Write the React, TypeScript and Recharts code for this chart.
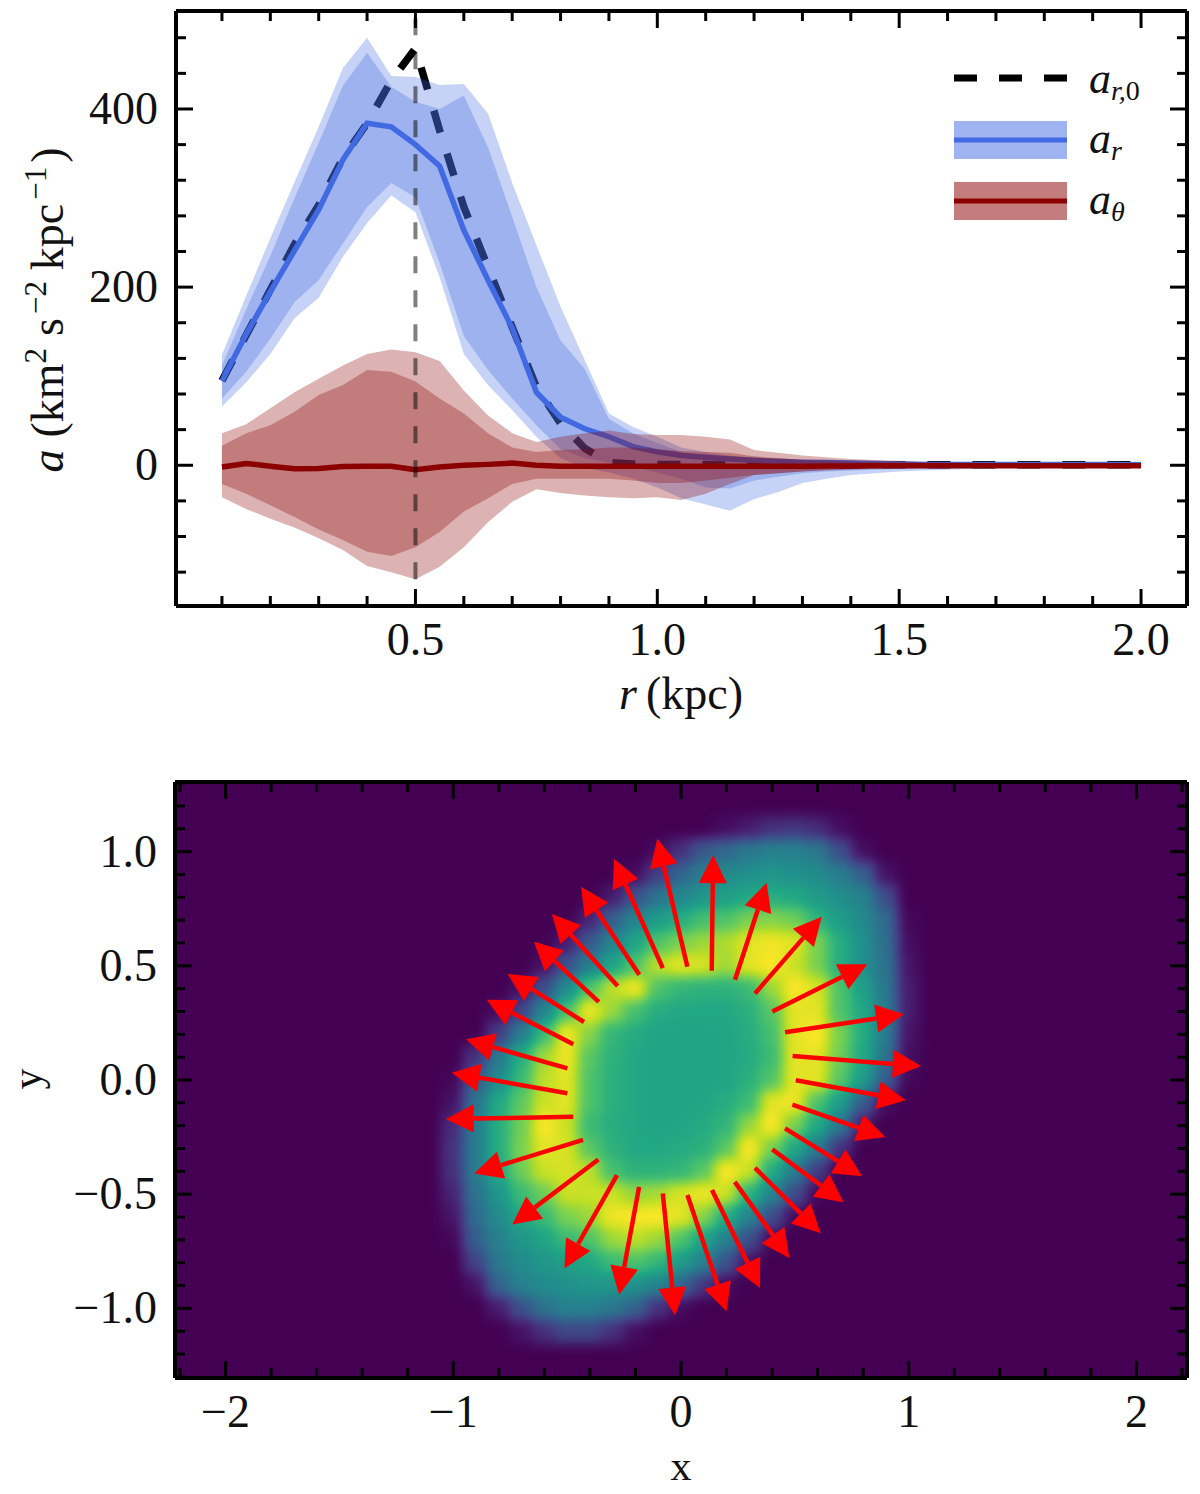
import { Area, CartesianGrid, ComposedChart, Legend, Line, ReferenceLine, Scatter, ScatterChart, XAxis, YAxis } from "recharts";

const FONT = "'Liberation Serif', serif";
const BLUE = "#4169e1";
const RED = "#8b0000";
const INK = "#000";

const radii = [0.1, 0.15, 0.2, 0.25, 0.3, 0.35, 0.4, 0.45, 0.5, 0.55, 0.6, 0.65, 0.7, 0.75, 0.8, 0.85, 0.9, 0.95, 1.0, 1.05, 1.1, 1.15, 1.2, 1.25, 1.3, 1.35, 1.4, 1.45, 1.5, 1.55, 1.6, 1.65, 1.7, 1.75, 1.8, 1.85, 1.9, 1.95, 2.0];
const arZero = [95, 146, 197, 248, 292, 345, 384, 432, 468, 376, 290, 222, 155, 88, 47, 19, 3, 1.5, 1, 1, 0.8, 0.6, 0.5, 0.5, 0.5, 0.5, 0.5, 0.5, 0.5, 0.5, 0.5, 0.5, 0.5, 0.5, 0.5, 0.5, 0.5, 0.5, 0.5];
const arMean = [95, 147, 195, 241, 287, 343, 384, 380, 360, 336, 264, 208, 154, 82, 54, 41, 32, 21, 15, 11, 9, 7, 5.5, 4.5, 3.5, 3, 2.5, 2, 1.5, 1, 1, 1, 1, 1, 1, 1, 1, 1, 0.5];
const arInnerHigh = [112, 175, 235, 300, 362, 426, 463, 425, 408, 400, 415, 357, 279, 200, 140, 108, 52, 36, 25, 15, 11, 8, 6, 5, 4, 3.5, 3, 2.5, 2, 2, 1.5, 1.5, 1.5, 1, 1, 1, 1, 1, 1];
const arInnerLow = [75, 105, 142, 183, 208, 249, 290, 317, 301, 227, 145, 107, 75, 45, 18, 8, 3, -2, -8, -15, -25, -26, -17, -13, -9, -7, -6, -5, -4, -3.5, -3, -2.5, -2, -2, -1.5, -1.5, -1, -1, -1];
const arOuterHigh = [124, 190, 255, 318, 380, 446, 480, 437, 436, 427, 428, 395, 317, 247, 178, 118, 58, 43, 32, 20, 15, 11, 8, 6, 5, 4, 3, 3, 2, 2, 2, 1.5, 1.5, 1.5, 1, 1, 1, 1, 1];
const arOuterLow = [66, 93, 125, 165, 188, 234, 272, 303, 284, 211, 125, 90, 62, 32, 8, -3, -8, -15, -25, -37, -44, -51, -38, -30, -20, -15, -11, -9, -7, -6, -5, -4, -3, -3, -2, -2, -1.5, -1, -1];
const atMean = [-2, 2, -1, -4, -3.5, -1.5, -1, -1, -5, -2, 0, 1, 2.5, 0, -1, -1, -1, -1, -1, -1, -1, -1, -1, -1, -1, -0.8, -0.8, -0.6, -0.6, -0.5, -0.5, -0.5, -0.5, -0.5, -0.5, -0.5, -0.5, -0.5, -0.5];
const atInnerHigh = [22, 36, 45, 60, 79, 90, 107, 105, 94, 75, 58, 36, 20, 15, 17, 18, 20, 20, 18, 16, 15, 14, 10, 8, 6, 5, 4, 3.5, 3, 2.5, 2, 2, 1.5, 1.5, 1, 1, 1, 0.8, 0.8];
const atInnerLow = [-21, -32, -45, -58, -72, -84, -97, -102, -92, -75, -52, -37, -21, -15, -15, -15, -15, -17, -20, -20, -17, -14, -11, -9, -7, -5, -4, -3.5, -3, -2.5, -2, -2, -1.5, -1.5, -1, -1, -1, -0.8, -0.8];
const atOuterHigh = [36, 46, 64, 82, 97, 112, 125, 130, 127, 117, 84, 56, 36, 26, 32, 36, 39, 35, 34, 34, 32, 29, 17, 14, 11, 9, 7, 6, 5, 4, 3.5, 3, 2.5, 2, 2, 1.5, 1.5, 1, 1];
const atOuterLow = [-36, -49, -60, -70, -82, -95, -113, -120, -128, -114, -92, -64, -41, -27, -31, -34, -36, -37, -36, -39, -32, -21, -11, -9, -7, -6, -5, -4, -3.5, -3, -2.5, -2, -2, -1.5, -1.5, -1, -1, -1, -1];

const profile = radii.map((r, i) => ({
  r,
  arZero: arZero[i],
  arMean: arMean[i],
  arInner: [arInnerLow[i], arInnerHigh[i]],
  arOuter: [arOuterLow[i], arOuterHigh[i]],
  atMean: atMean[i],
  atInner: [atInnerLow[i], atInnerHigh[i]],
  atOuter: [atOuterLow[i], atOuterHigh[i]],
}));

const rTicks = [0.1, 0.2, 0.3, 0.4, 0.5, 0.6, 0.7, 0.8, 0.9, 1.0, 1.1, 1.2, 1.3, 1.4, 1.5, 1.6, 1.7, 1.8, 1.9, 2.0];
const rMajor = [0.5, 1.0, 1.5, 2.0];
const aTicks = [-120, -80, -40, 0, 40, 80, 120, 160, 200, 240, 280, 320, 360, 400, 440, 480];
const aMajor = [0, 200, 400];
const xTicks = [-2.2, -2, -1.8, -1.6, -1.4, -1.2, -1, -0.8, -0.6, -0.4, -0.2, 0, 0.2, 0.4, 0.6, 0.8, 1, 1.2, 1.4, 1.6, 1.8, 2, 2.2];
const xMajor = [-2, -1, 0, 1, 2];
const yTicks = [-1.3, -1.2, -1.1, -1, -0.9, -0.8, -0.7, -0.6, -0.5, -0.4, -0.3, -0.2, -0.1, 0, 0.1, 0.2, 0.3, 0.4, 0.5, 0.6, 0.7, 0.8, 0.9, 1, 1.1, 1.2, 1.3];
const yMajor = [-1, -0.5, 0, 0.5, 1];

// density, percent of the colour range
const gridX = [-1.1, -1, -0.9, -0.8, -0.7, -0.6, -0.5, -0.4, -0.3, -0.2, -0.1, 0, 0.1, 0.2, 0.3, 0.4, 0.5, 0.6, 0.7, 0.8, 0.9, 1, 1.1];
const gridY = [1.1, 1, 0.9, 0.8, 0.7, 0.6, 0.5, 0.4, 0.3, 0.2, 0.1, 0, -0.1, -0.2, -0.3, -0.4, -0.5, -0.6, -0.7, -0.8, -0.9, -1, -1.1];
const density = [
  [0, 0, 0, 0, 0, 0, 0, 0, 0, 0, 0, 0, 0, 4, 8, 14, 16, 12, 4, 0, 0, 0, 0],
  [0, 0, 0, 0, 0, 0, 0, 0, 0, 0, 3, 14, 28, 34, 40, 44, 44, 40, 24, 4, 0, 0, 0],
  [0, 0, 0, 0, 0, 0, 0, 0, 0, 3, 18, 32, 42, 47, 50, 52, 50, 48, 42, 30, 5, 0, 0],
  [0, 0, 0, 0, 0, 0, 0, 0, 8, 25, 38, 46, 52, 56, 60, 62, 60, 54, 49, 44, 24, 0, 0],
  [0, 0, 0, 0, 0, 0, 0, 10, 30, 45, 55, 62, 70, 72, 80, 82, 78, 65, 55, 47, 35, 2, 0],
  [0, 0, 0, 0, 0, 0, 8, 28, 45, 58, 72, 80, 85, 88, 96, 98, 96, 80, 62, 50, 36, 4, 0],
  [0, 0, 0, 0, 0, 5, 25, 42, 58, 72, 90, 96, 94, 86, 96, 100, 92, 80, 62, 50, 38, 6, 0],
  [0, 0, 0, 0, 5, 24, 48, 72, 90, 98, 72, 66, 64, 64, 68, 85, 100, 94, 72, 56, 40, 8, 0],
  [0, 0, 0, 3, 20, 45, 70, 98, 85, 70, 62, 60, 60, 60, 63, 74, 96, 96, 72, 60, 42, 8, 0],
  [0, 0, 0, 18, 42, 68, 98, 82, 66, 61, 58, 58, 58, 59, 62, 70, 96, 100, 80, 62, 42, 6, 0],
  [0, 0, 15, 40, 62, 86, 98, 74, 64, 60, 58, 58, 58, 59, 61, 68, 96, 96, 78, 60, 38, 4, 0],
  [0, 2, 28, 48, 68, 90, 96, 72, 63, 60, 58, 58, 58, 59, 63, 73, 96, 96, 74, 55, 30, 2, 0],
  [0, 5, 38, 60, 75, 92, 96, 72, 63, 60, 58, 58, 59, 62, 68, 96, 98, 72, 55, 30, 4, 0, 0],
  [0, 12, 42, 62, 78, 100, 92, 68, 62, 60, 58, 59, 61, 65, 84, 100, 80, 60, 40, 8, 0, 0, 0],
  [0, 15, 42, 62, 80, 96, 94, 74, 64, 60, 60, 61, 63, 74, 100, 80, 60, 42, 15, 0, 0, 0, 0],
  [0, 14, 42, 60, 78, 92, 94, 90, 70, 64, 64, 66, 74, 100, 92, 62, 42, 18, 0, 0, 0, 0, 0],
  [0, 10, 38, 52, 68, 78, 92, 92, 92, 84, 87, 94, 98, 92, 65, 45, 24, 2, 0, 0, 0, 0, 0],
  [0, 6, 35, 48, 60, 68, 80, 85, 98, 100, 100, 96, 82, 62, 45, 24, 3, 0, 0, 0, 0, 0, 0],
  [0, 2, 30, 44, 52, 58, 68, 72, 85, 90, 85, 72, 58, 44, 24, 3, 0, 0, 0, 0, 0, 0, 0],
  [0, 0, 20, 40, 48, 52, 56, 60, 68, 72, 66, 55, 44, 26, 5, 0, 0, 0, 0, 0, 0, 0, 0],
  [0, 0, 5, 32, 44, 48, 50, 52, 52, 50, 45, 33, 16, 3, 0, 0, 0, 0, 0, 0, 0, 0, 0],
  [0, 0, 0, 8, 25, 38, 44, 44, 40, 32, 14, 3, 0, 0, 0, 0, 0, 0, 0, 0, 0, 0, 0],
  [0, 0, 0, 0, 5, 14, 22, 22, 14, 4, 0, 0, 0, 0, 0, 0, 0, 0, 0, 0, 0, 0, 0],
];
const densityCells = gridY.flatMap((y, row) => gridX.map((x, col) => ({ x, y, v: density[row][col] })));

// arrow tail and tip, clockwise from the left
const arrowTailX = [-0.499, -0.499, -0.473, -0.426, -0.361, -0.278, -0.183, -0.08, 0.028, 0.135, 0.237, 0.325, 0.401, 0.457, 0.49, 0.504, 0.489, 0.457, 0.401, 0.325, 0.236, 0.136, 0.028, -0.08, -0.184, -0.281, -0.363, -0.43, -0.473];
const arrowTailY = [-0.058, 0.051, 0.157, 0.254, 0.342, 0.412, 0.461, 0.49, 0.496, 0.478, 0.439, 0.379, 0.3, 0.209, 0.105, -0.001, -0.108, -0.212, -0.304, -0.385, -0.446, -0.482, -0.504, -0.497, -0.468, -0.417, -0.348, -0.262, -0.161];
const arrowTipX = [-1.007, -0.944, -0.853, -0.761, -0.646, -0.567, -0.439, -0.294, -0.104, 0.141, 0.376, 0.618, 0.818, 0.979, 1.054, 0.987, 0.897, 0.795, 0.714, 0.613, 0.476, 0.347, 0.2, -0.026, -0.272, -0.512, -0.741, -0.908, -1.033];
const arrowTipY = [0.032, 0.178, 0.351, 0.464, 0.605, 0.727, 0.846, 0.968, 1.056, 0.985, 0.863, 0.715, 0.507, 0.288, 0.061, -0.089, -0.25, -0.421, -0.535, -0.671, -0.779, -0.911, -1.013, -1.031, -0.94, -0.825, -0.633, -0.409, -0.171];

const viridisR = [68, 72, 65, 53, 42, 33, 34, 68, 122, 189, 253];
const viridisG = [1, 36, 68, 95, 120, 145, 168, 191, 209, 223, 231];
const viridisB = [84, 117, 135, 141, 142, 140, 132, 112, 81, 38, 37];
const toTable = (list: number[]) => list.map((c) => (c / 255).toFixed(3)).join(" ");

const fmtOne = (v: number) => (v < 0 ? "\u2212" : "") + Math.abs(v).toFixed(1);
const fmtInt = (v: number) => (v < 0 ? "\u2212" : "") + Math.abs(v);

function makeTick(side: string, majors: number[], format?: (v: number) => string) {
  return function AxisTick({ x, y, payload }: any) {
    const major = majors.includes(payload.value);
    const len = major ? 17 : 10;
    const dx = side === "left" ? len : side === "right" ? -len : 0;
    const dy = side === "top" ? len : side === "bottom" ? -len : 0;
    return (
      <g>
        <line x1={x} y1={y} x2={x + dx} y2={y + dy} stroke={INK} strokeWidth={3} />
        {major && format && side === "bottom" && (
          <text x={x} y={y + 49} textAnchor="middle" fontFamily={FONT} fontSize={46} fill="#111">{format(payload.value)}</text>
        )}
        {major && format && side === "left" && (
          <text x={x - 18} y={y + 15} textAnchor="end" fontFamily={FONT} fontSize={46} fill="#111">{format(payload.value)}</text>
        )}
      </g>
    );
  };
}

function Arrow({ x1, y1, x2, y2 }: any) {
  const angle = Math.atan2(y2 - y1, x2 - x1);
  const ux = Math.cos(angle);
  const uy = Math.sin(angle);
  const headLen = 28;
  const halfWidth = 14;
  const bx = x2 - ux * headLen;
  const by = y2 - uy * headLen;
  return (
    <g>
      <line x1={x1} y1={y1} x2={bx} y2={by} stroke="#ff0000" strokeWidth={4.5} />
      <polygon
        fill="#ff0000"
        points={`${x2},${y2} ${bx - uy * halfWidth},${by + ux * halfWidth} ${bx + uy * halfWidth},${by - ux * halfWidth}`}
      />
    </g>
  );
}

// cells are drawn as grey levels, the filter smooths them and maps them to viridis
function DensityCell({ cx, cy, payload }: any) {
  const level = Math.round(payload.v * 2.55);
  return <rect x={cx - 12} y={cy - 12} width={24} height={24} fill={`rgb(${level},${level},${level})`} />;
}

function LegendName({ sub, upright, y }: { sub: string; upright?: string; y: number }) {
  return (
    <text x={135} y={y} fontFamily={FONT} fontSize={44} fill="#111">
      <tspan fontStyle="italic">a</tspan>
      <tspan dy={7} fontSize={28} fontStyle="italic">{sub}</tspan>
      {upright && <tspan fontSize={28}>{upright}</tspan>}
    </text>
  );
}

function ProfileLegend() {
  return (
    <svg width={230} height={170} style={{ display: "block" }}>
      <line x1={0} y1={19} x2={113} y2={19} stroke={INK} strokeWidth={7} strokeDasharray="23 22" />
      <LegendName sub="r," upright="0" y={34} />
      <rect x={0} y={62} width={113} height={38} fill={BLUE} fillOpacity={0.51} />
      <line x1={0} y1={81} x2={113} y2={81} stroke={BLUE} strokeWidth={5} />
      <LegendName sub="r" y={94} />
      <rect x={0} y={123} width={113} height={38} fill={RED} fillOpacity={0.51} />
      <line x1={0} y1={142} x2={113} y2={142} stroke={RED} strokeWidth={5} />
      <LegendName sub={"\u03b8"} y={155} />
    </svg>
  );
}

const axisBase = { tickLine: false, tickSize: 0, tickMargin: 0, interval: 0 as const, stroke: INK, strokeWidth: 4, axisLine: { stroke: INK, strokeWidth: 4 } };

export default function App() {
  return (
    <div style={{ position: "absolute", left: 0, top: 0, width: 1200, height: 1494, background: "#fff" }}>
      <style>{`.density-cells { filter: url(#density-map); } .recharts-cartesian-axis-line { stroke-width: 4px; }`}</style>
      <svg width={0} height={0} style={{ position: "absolute" }}>
        <defs>
          <filter id="density-map" colorInterpolationFilters="sRGB" x="-10%" y="-10%" width="120%" height="120%">
            <feGaussianBlur stdDeviation={6.5} />
            <feComponentTransfer>
              <feFuncR type="table" tableValues={toTable(viridisR)} />
              <feFuncG type="table" tableValues={toTable(viridisG)} />
              <feFuncB type="table" tableValues={toTable(viridisB)} />
            </feComponentTransfer>
          </filter>
        </defs>
      </svg>
      <div style={{ position: "absolute", left: 0, top: 0 }}>
        <ComposedChart width={1200} height={740} data={profile} margin={{ top: 0, right: 0, bottom: 0, left: 0 }}>
          <XAxis
            {...axisBase}
            dataKey="r"
            type="number"
            domain={[0.005, 2.095]}
            ticks={rTicks}
            height={134}
            allowDataOverflow
            tick={makeTick("bottom", rMajor, fmtOne)}
            label={{
              content: () => (
                <text x={681} y={709} textAnchor="middle" fontFamily={FONT} fontSize={46} fill="#111">
                  <tspan fontStyle="italic">r</tspan>
                  <tspan dx={9}>(kpc)</tspan>
                </text>
              ),
            }}
          />
          <XAxis {...axisBase} xAxisId="top" orientation="top" dataKey="r" type="number" domain={[0.005, 2.095]} ticks={rTicks} height={11} allowDataOverflow tick={makeTick("top", rMajor)} />
          <YAxis
            {...axisBase}
            type="number"
            domain={[-158, 510]}
            ticks={aTicks}
            width={176}
            allowDataOverflow
            tick={makeTick("left", aMajor, fmtInt)}
            label={{
              content: () => (
                <text transform="translate(63 310) rotate(-90)" textAnchor="middle" fontFamily={FONT} fontSize={46} fill="#111">
                  <tspan fontStyle="italic">a</tspan>
                  <tspan dx={12}>(km</tspan>
                  <tspan dy={-17} fontSize={31}>2</tspan>
                  <tspan dy={17} dx={12}>s</tspan>
                  <tspan dy={-17} fontSize={31} dx={4}>{"\u22122"}</tspan>
                  <tspan dy={17} dx={11}>kpc</tspan>
                  <tspan dy={-17} fontSize={31} dx={4}>{"\u22121"}</tspan>
                  <tspan dy={17} dx={4}>)</tspan>
                </text>
              ),
            }}
          />
          <YAxis {...axisBase} yAxisId="right" orientation="right" type="number" domain={[-158, 510]} ticks={aTicks} width={13} allowDataOverflow tick={makeTick("right", aMajor)} />
          <Legend
            layout="horizontal"
            verticalAlign="middle"
            align="center"
            content={<ProfileLegend />}
            wrapperStyle={{ position: "absolute", left: 954, top: 59, width: 230, height: 170, margin: 0 }}
          />
          <Line zIndex={10} dataKey="arZero" type="linear" stroke={INK} strokeWidth={7.5} strokeDasharray="23 22" dot={false} activeDot={false} isAnimationActive={false} />
          <Area zIndex={20} dataKey="arOuter" type="linear" stroke="none" fill={BLUE} fillOpacity={0.3} dot={false} activeDot={false} isAnimationActive={false} />
          <Area zIndex={21} dataKey="arInner" type="linear" stroke="none" fill={BLUE} fillOpacity={0.3} dot={false} activeDot={false} isAnimationActive={false} />
          <Line zIndex={22} dataKey="arMean" type="linear" stroke={BLUE} strokeWidth={5.5} dot={false} activeDot={false} isAnimationActive={false} />
          <Area zIndex={23} dataKey="atOuter" type="linear" stroke="none" fill={RED} fillOpacity={0.3} dot={false} activeDot={false} isAnimationActive={false} />
          <Area zIndex={24} dataKey="atInner" type="linear" stroke="none" fill={RED} fillOpacity={0.3} dot={false} activeDot={false} isAnimationActive={false} />
          <Line zIndex={25} dataKey="atMean" type="linear" stroke={RED} strokeWidth={5.5} dot={false} activeDot={false} isAnimationActive={false} />
          <ReferenceLine zIndex={26} segment={[{ x: 0.5, y: -128 }, { x: 0.5, y: 505 }]} stroke={INK} strokeOpacity={0.5} strokeWidth={4} strokeDasharray="17 17" />
        </ComposedChart>
      </div>
      <div style={{ position: "absolute", left: 0, top: 740 }}>
        <ScatterChart width={1200} height={754} margin={{ top: 0, right: 0, bottom: 0, left: 0 }}>
          <CartesianGrid horizontal={false} vertical={false} fill="#440154" />
          <XAxis
            {...axisBase}
            dataKey="x"
            type="number"
            domain={[-2.222, 2.222]}
            ticks={xTicks}
            height={116}
            allowDataOverflow
            tick={makeTick("bottom", xMajor, fmtInt)}
            label={{
              content: () => (
                <text x={681} y={740} textAnchor="middle" fontFamily={FONT} fontSize={42} fill="#111">x</text>
              ),
            }}
          />
          <XAxis {...axisBase} xAxisId="top" orientation="top" dataKey="x" type="number" domain={[-2.222, 2.222]} ticks={xTicks} height={42} allowDataOverflow tick={makeTick("top", xMajor)} />
          <YAxis
            {...axisBase}
            dataKey="y"
            type="number"
            domain={[-1.305, 1.305]}
            ticks={yTicks}
            width={175}
            allowDataOverflow
            tick={makeTick("left", yMajor, fmtOne)}
            label={{
              content: () => (
                <text transform="translate(41 339) rotate(-90)" textAnchor="middle" fontFamily={FONT} fontSize={42} fill="#111">y</text>
              ),
            }}
          />
          <YAxis {...axisBase} yAxisId="right" orientation="right" dataKey="y" type="number" domain={[-1.305, 1.305]} ticks={yTicks} width={13} allowDataOverflow tick={makeTick("right", yMajor)} />
          <Scatter zIndex={10} className="density-cells" data={densityCells} shape={<DensityCell />} isAnimationActive={false} />
          {arrowTailX.map((x, i) => (
            <ReferenceLine
              key={i}
              zIndex={700}
              segment={[{ x, y: arrowTailY[i] }, { x: arrowTipX[i], y: arrowTipY[i] }]}
              shape={<Arrow />}
            />
          ))}
        </ScatterChart>
      </div>
    </div>
  );
}
